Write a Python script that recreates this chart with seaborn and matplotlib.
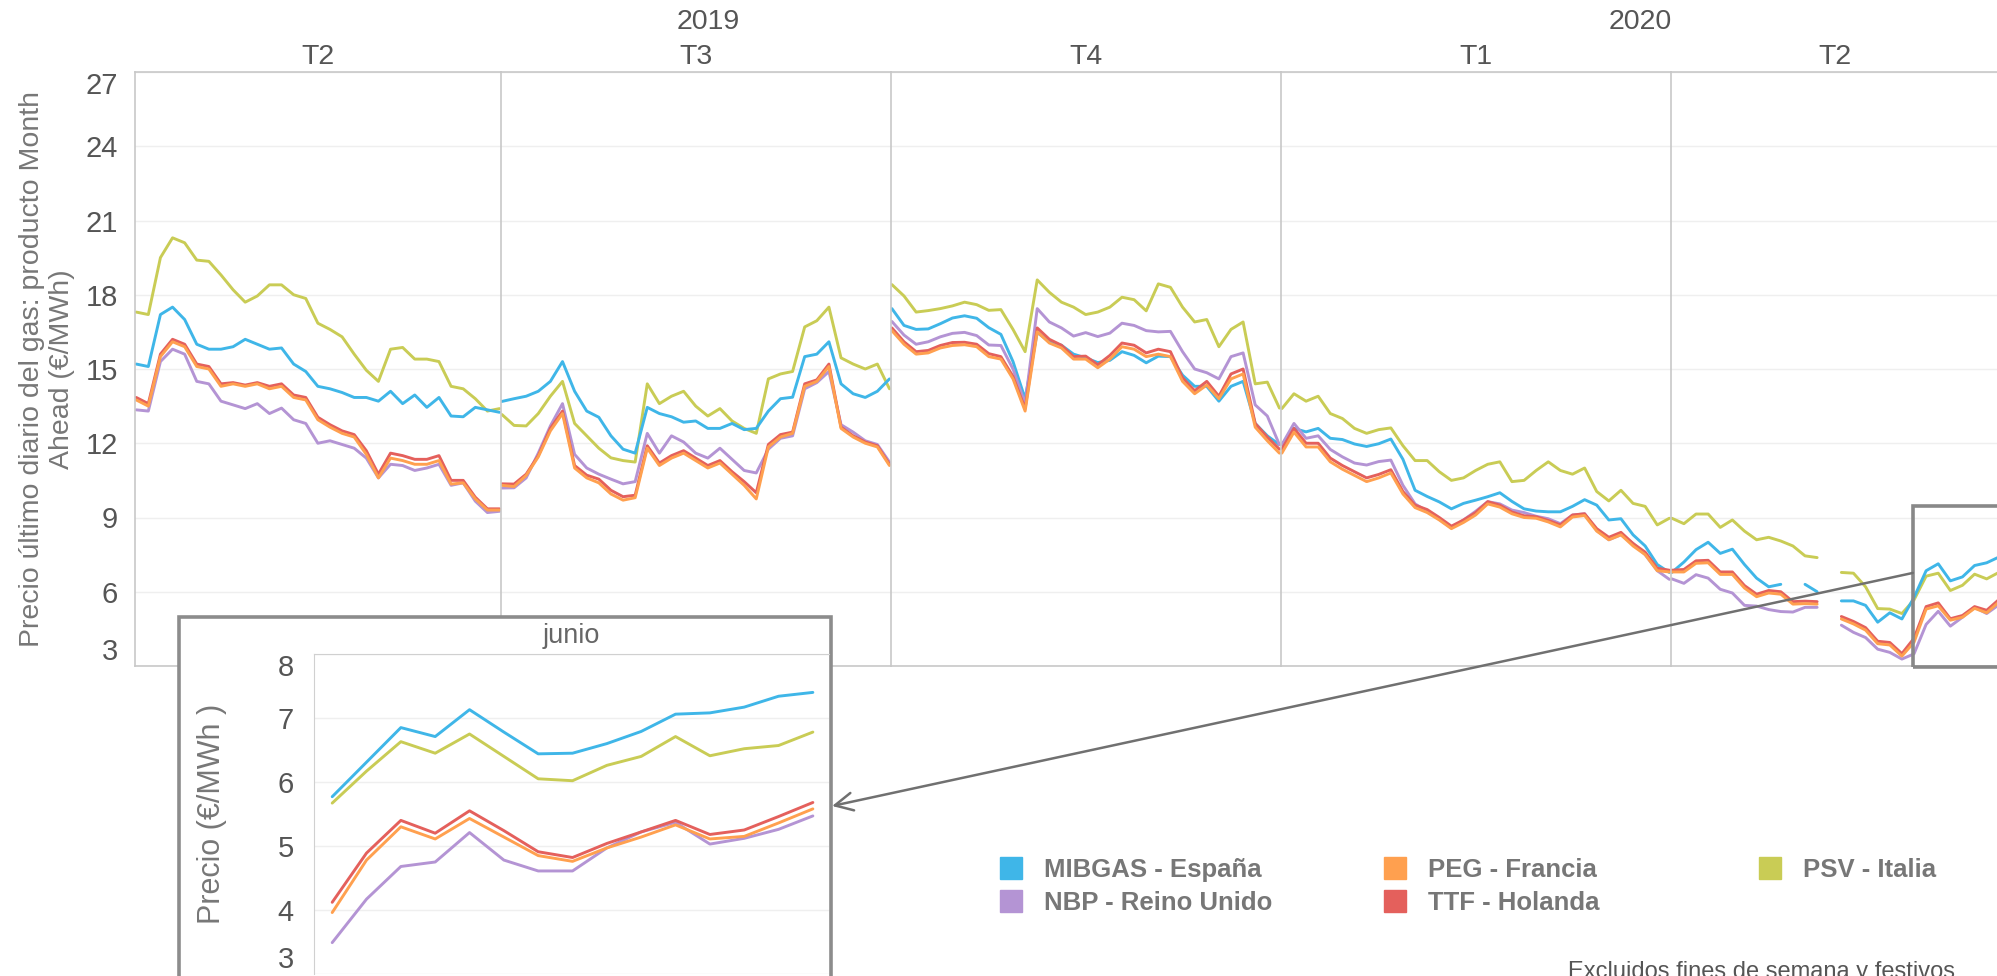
import numpy as np
import pandas as pd
import matplotlib.pyplot as plt
import seaborn as sns
from matplotlib.patches import Rectangle, ConnectionPatch
from matplotlib.lines import Line2D

# ---------------------------------------------------------------- datos
mercados = ['MIBGAS - España', 'NBP - Reino Unido', 'PEG - Francia', 'TTF - Holanda', 'PSV - Italia']
colores = ['#3fb6e8', '#b494d4', '#ffa04f', '#e4605c', '#c9cc55']
trimestres = ['T2', 'T3', 'T4', 'T1', 'T2']
anios = ['2019', '2019', '2019', '2020', '2020']
puntos_trimestre = [31, 33, 33, 33, 28]

nan = np.nan
# precio (€/MWh), un valor cada dos días hábiles aprox., trimestre a trimestre
mibgas = [15.2, 15.1, 17.2, 17.5, 17.0, 16.0, 15.8, 15.8, 15.9, 16.2, 16.0, 15.8, 15.85, 15.2, 14.9, 14.3,
          14.2, 14.05, 13.85, 13.85, 13.7, 14.1, 13.6, 13.95, 13.45, 13.85, 13.1, 13.07, 13.45, 13.35, 13.25,
          13.69, 13.8, 13.9, 14.1, 14.5, 15.3, 14.1, 13.3, 13.05, 12.3, 11.76, 11.6, 13.45, 13.2, 13.07, 12.85,
          12.9, 12.6, 12.6, 12.8, 12.55, 12.6, 13.3, 13.8, 13.86, 15.5, 15.6, 16.1, 14.4, 14.0, 13.85, 14.1, 14.6,
          17.44, 16.76, 16.6, 16.62, 16.83, 17.06, 17.15, 17.05, 16.67, 16.4, 15.3, 13.8, 16.48, 16.1, 15.96, 15.6,
          15.45, 15.26, 15.35, 15.7, 15.55, 15.25, 15.52, 15.5, 14.75, 14.3, 14.3, 13.7, 14.3, 14.5, 12.8, 12.3, 11.94,
          11.94, 12.6, 12.46, 12.6, 12.2, 12.15, 11.97, 11.87, 11.98, 12.17, 11.35, 10.1, 9.85, 9.63, 9.35, 9.57,
          9.7, 9.84, 10.0, 9.65, 9.35, 9.26, 9.23, 9.23, 9.45, 9.72, 9.5, 8.9, 8.95, 8.3, 7.85, 7.1, 6.78,
          6.78, 7.2, 7.7, 8.0, 7.55, 7.72, 7.1, 6.55, 6.2, 6.3, nan, 6.3, 6.0, nan, 5.63, 5.63, 5.45, 4.77,
          5.15, 4.9, 5.77, 6.85, 7.13, 6.44, 6.60, 7.06, 7.17, 7.40]
nbp = [13.35, 13.3, 15.3, 15.8, 15.6, 14.5, 14.4, 13.7, 13.55, 13.4, 13.6, 13.2, 13.42, 12.95, 12.8, 12.0,
       12.1, 11.95, 11.8, 11.4, 10.6, 11.15, 11.1, 10.9, 11.0, 11.15, 10.3, 10.4, 9.66, 9.2, 9.25,
       10.19, 10.2, 10.6, 11.6, 12.7, 13.6, 11.55, 11.0, 10.75, 10.55, 10.36, 10.45, 12.4, 11.6, 12.3, 12.05,
       11.6, 11.4, 11.8, 11.35, 10.9, 10.8, 11.76, 12.2, 12.3, 14.2, 14.45, 14.9, 12.75, 12.45, 12.1, 11.95, 11.24,
       16.92, 16.37, 16.0, 16.1, 16.3, 16.44, 16.48, 16.35, 15.97, 15.95, 15.0, 13.6, 17.44, 16.9, 16.66, 16.33,
       16.47, 16.31, 16.45, 16.85, 16.76, 16.55, 16.5, 16.52, 15.7, 15.0, 14.85, 14.6, 15.5, 15.65, 13.55, 13.1, 11.94,
       11.94, 12.8, 12.2, 12.3, 11.75, 11.45, 11.2, 11.12, 11.26, 11.32, 10.3, 9.55, 9.25, 8.93, 8.58, 8.9,
       9.25, 9.64, 9.55, 9.3, 9.2, 9.05, 8.95, 8.75, 9.1, 9.15, 8.48, 8.1, 8.3, 7.95, 7.5, 6.85, 6.5,
       6.52, 6.34, 6.69, 6.55, 6.1, 5.95, 5.45, 5.42, 5.28, 5.2, 5.18, 5.37, 5.37, nan, 4.65, 4.36, 4.15, 3.68,
       3.55, 3.28, 3.49, 4.68, 5.21, 4.61, 4.97, 5.37, 5.12, 5.47]
peg = [13.75, 13.5, 15.5, 16.1, 15.9, 15.1, 15.0, 14.3, 14.4, 14.3, 14.4, 14.2, 14.3, 13.85, 13.75, 12.95,
       12.65, 12.4, 12.25, 11.55, 10.6, 11.4, 11.3, 11.15, 11.15, 11.3, 10.35, 10.4, 9.75, 9.3, 9.3,
       10.3, 10.25, 10.7, 11.45, 12.5, 13.2, 11.0, 10.6, 10.4, 9.95, 9.7, 9.8, 11.8, 11.1, 11.4, 11.6,
       11.3, 11.0, 11.2, 10.75, 10.3, 9.75, 11.85, 12.25, 12.4, 14.3, 14.5, 15.1, 12.6, 12.25, 12.0, 11.85, 11.1,
       16.55, 16.0, 15.6, 15.65, 15.85, 15.95, 15.98, 15.9, 15.5, 15.4, 14.6, 13.3, 16.5, 16.05, 15.85, 15.4,
       15.4, 15.05, 15.4, 15.9, 15.8, 15.5, 15.6, 15.5, 14.5, 14.0, 14.35, 13.8, 14.6, 14.8, 12.65, 12.1, 11.6,
       11.6, 12.45, 11.85, 11.85, 11.25, 10.95, 10.7, 10.45, 10.6, 10.8, 9.95, 9.4, 9.2, 8.9, 8.55, 8.8,
       9.1, 9.55, 9.42, 9.15, 9.0, 8.97, 8.82, 8.62, 9.02, 9.08, 8.45, 8.1, 8.3, 7.85, 7.5, 6.85, 6.8,
       6.8, 6.8, 7.15, 7.17, 6.7, 6.7, 6.15, 5.8, 5.95, 5.9, 5.5, 5.52, 5.5, nan, 4.9, 4.7, 4.45, 3.9,
       3.85, 3.4, 3.96, 5.30, 5.43, 4.85, 4.97, 5.33, 5.15, 5.58]
ttf = [13.85, 13.6, 15.6, 16.2, 16.0, 15.2, 15.1, 14.4, 14.45, 14.35, 14.45, 14.3, 14.4, 13.95, 13.85, 13.05,
       12.75, 12.5, 12.35, 11.7, 10.75, 11.6, 11.5, 11.35, 11.35, 11.5, 10.5, 10.5, 9.82, 9.35, 9.35,
       10.36, 10.35, 10.75, 11.5, 12.6, 13.3, 11.1, 10.71, 10.55, 10.1, 9.84, 9.9, 11.9, 11.2, 11.5, 11.7,
       11.4, 11.1, 11.3, 10.85, 10.45, 10.0, 11.95, 12.35, 12.45, 14.4, 14.56, 15.2, 12.65, 12.3, 12.05, 11.9, 11.15,
       16.66, 16.1, 15.7, 15.75, 15.95, 16.07, 16.08, 16.0, 15.62, 15.5, 14.7, 13.4, 16.66, 16.2, 15.96, 15.5,
       15.52, 15.17, 15.55, 16.05, 15.96, 15.65, 15.8, 15.7, 14.65, 14.12, 14.5, 13.9, 14.8, 15.0, 12.8, 12.25, 11.76,
       11.76, 12.6, 12.0, 12.0, 11.4, 11.1, 10.85, 10.6, 10.74, 10.93, 10.05, 9.5, 9.32, 9.0, 8.65, 8.9,
       9.2, 9.64, 9.5, 9.22, 9.07, 9.03, 8.88, 8.7, 9.1, 9.15, 8.55, 8.2, 8.4, 7.95, 7.6, 6.95, 6.87,
       6.87, 6.9, 7.25, 7.27, 6.8, 6.8, 6.25, 5.9, 6.05, 6.0, 5.6, 5.62, 5.6, nan, 5.0, 4.8, 4.55, 4.0,
       3.95, 3.5, 4.12, 5.40, 5.55, 4.91, 5.04, 5.40, 5.25, 5.68]
psv = [17.3, 17.2, 19.5, 20.3, 20.1, 19.4, 19.35, 18.8, 18.2, 17.7, 17.95, 18.4, 18.4, 18.0, 17.85, 16.85,
       16.6, 16.3, 15.6, 14.95, 14.5, 15.8, 15.87, 15.4, 15.4, 15.3, 14.3, 14.2, 13.8, 13.3, 13.4,
       13.16, 12.72, 12.7, 13.2, 13.9, 14.5, 12.8, 12.3, 11.8, 11.41, 11.3, 11.24, 14.4, 13.6, 13.9, 14.1,
       13.5, 13.1, 13.4, 12.9, 12.6, 12.4, 14.6, 14.8, 14.9, 16.7, 16.95, 17.5, 15.45, 15.2, 15.0, 15.2, 14.2,
       18.41, 17.95, 17.3, 17.36, 17.44, 17.55, 17.7, 17.6, 17.37, 17.4, 16.6, 15.7, 18.6, 18.1, 17.7, 17.5,
       17.2, 17.3, 17.5, 17.9, 17.8, 17.35, 18.44, 18.3, 17.5, 16.9, 17.0, 15.9, 16.6, 16.9, 14.4, 14.47, 13.42,
       13.4, 14.0, 13.7, 13.9, 13.2, 13.0, 12.6, 12.4, 12.55, 12.62, 11.9, 11.3, 11.3, 10.85, 10.5, 10.6,
       10.9, 11.15, 11.25, 10.45, 10.5, 10.9, 11.25, 10.9, 10.75, 11.0, 10.05, 9.67, 10.1, 9.57, 9.45, 8.7, 8.97,
       8.97, 8.75, 9.14, 9.14, 8.6, 8.9, 8.45, 8.1, 8.2, 8.05, 7.85, 7.45, 7.38, nan, 6.78, 6.75, 6.2, 5.32,
       5.3, 5.12, 5.67, 6.63, 6.75, 6.05, 6.26, 6.71, 6.52, 6.78]

# detalle de junio 2020 (días hábiles 1..15)
junio_dia = list(range(1, 16))
junio_mibgas = [5.77, 6.31, 6.85, 6.71, 7.13, 6.78, 6.44, 6.45, 6.60, 6.79, 7.06, 7.08, 7.17, 7.34, 7.40]
junio_nbp = [3.49, 4.17, 4.68, 4.75, 5.21, 4.78, 4.61, 4.61, 4.97, 5.22, 5.37, 5.03, 5.12, 5.26, 5.47]
junio_peg = [3.96, 4.78, 5.30, 5.11, 5.43, 5.14, 4.85, 4.76, 4.97, 5.14, 5.33, 5.11, 5.15, 5.36, 5.58]
junio_ttf = [4.12, 4.89, 5.40, 5.20, 5.55, 5.24, 4.91, 4.82, 5.04, 5.22, 5.40, 5.18, 5.25, 5.46, 5.68]
junio_psv = [5.67, 6.17, 6.63, 6.45, 6.75, 6.40, 6.05, 6.02, 6.26, 6.40, 6.71, 6.41, 6.52, 6.57, 6.78]

# ---------------------------------------------------------------- tablas
valores = dict(zip(mercados, [mibgas, nbp, peg, ttf, psv]))
filas = []
inicio = 0
for t, n in enumerate(puntos_trimestre):
    for m in mercados:
        tramo = 0
        for i, v in enumerate(valores[m][inicio:inicio + n]):
            if np.isnan(v):
                tramo += 1  # corta la línea en los huecos
            filas.append((t, i, m, v, tramo))
    inicio += n
df = pd.DataFrame(filas, columns=['trimestre', 'dia', 'mercado', 'precio', 'tramo'])

junio = pd.DataFrame({'dia': junio_dia * 5,
                      'mercado': np.repeat(mercados, len(junio_dia)),
                      'precio': junio_mibgas + junio_nbp + junio_peg + junio_ttf + junio_psv})

# ---------------------------------------------------------------- estilo
sns.set_style('white')
plt.rcParams['font.family'] = ['Liberation Sans', 'DejaVu Sans']
narrow = ['Liberation Sans Narrow', 'Liberation Sans', 'DejaVu Sans']
gris_txt = '#555555'
gris_lin = '#c8c8c8'
paleta = dict(zip(mercados, colores))
orden = ['PSV - Italia', 'MIBGAS - España', 'NBP - Reino Unido', 'TTF - Holanda', 'PEG - Francia']

W, H = 1997, 976
fig = plt.figure(figsize=(W / 100, H / 100), dpi=100)
gs = fig.add_gridspec(1, 5, left=135 / W, right=2000 / W, top=1 - 72 / H, bottom=1 - 666 / H,
                      wspace=0, width_ratios=[n - 0.8 for n in puntos_trimestre])
axes = [fig.add_subplot(gs[0, k]) for k in range(5)]

for k, ax in enumerate(axes):
    sns.lineplot(data=df[df['trimestre'] == k], x='dia', y='precio', hue='mercado', hue_order=orden,
                 palette=paleta, units='tramo', estimator=None, legend=False, lw=2.1, ax=ax)
    n = puntos_trimestre[k]
    ax.set_xlim(-0.1, n - 0.9)
    ax.set_ylim(3, 27)
    ax.set_yticks(range(3, 28, 3))
    ax.set_xticks([])
    ax.set_xlabel('')
    ax.set_ylabel('')
    ax.grid(axis='y', color='#efefef', lw=1)
    for s in ['top', 'bottom', 'left']:
        ax.spines[s].set_color(gris_lin)
        ax.spines[s].set_linewidth(1.2)
    ax.spines['right'].set_visible(False)
    ax.tick_params(left=False, bottom=False, labelsize=21, labelcolor=gris_txt, pad=9)
    if k > 0:
        ax.tick_params(labelleft=False)
    ax.set_title(trimestres[k], fontsize=20.5, color=gris_txt, pad=6)

ticks = axes[0].yaxis.get_major_ticks()
ticks[0].label1.set_va('bottom')
ticks[-1].label1.set_va('top')

# cabecera de años
for anio in ['2019', '2020']:
    idx = [k for k, a in enumerate(anios) if a == anio]
    x0 = axes[idx[0]].get_position().x0
    x1 = axes[idx[-1]].get_position().x1
    fig.text((x0 + x1) / 2, 1 - 22 / H, anio, ha='center', va='center', fontsize=20.5, color=gris_txt)

fig.text(47 / W, 1 - 369 / H, 'Precio último diario del gas: producto Month\nAhead (€/MWh)',
         rotation=90, ha='center', va='center', multialignment='center', fontsize=20.5, color='#777777')

# recuadro del zoom sobre junio
ult = axes[-1]
ult.add_patch(Rectangle((19.9, 2.95), 12, 6.5, fill=False, edgecolor='#888888', lw=2.6,
                        clip_on=False, zorder=6))

# ---------------------------------------------------------------- detalle junio
fig.add_artist(Rectangle((179 / W, 1 - 1010 / H), (831 - 179) / W, (1010 - 617) / H,
                         transform=fig.transFigure, facecolor='white', edgecolor='#8c8c8c',
                         lw=2.6, zorder=1))
ins = fig.add_axes([314 / W, 1 - 974 / H, (829 - 314) / W, (974 - 654) / H])
ins.set_zorder(2)
sns.lineplot(data=junio, x='dia', y='precio', hue='mercado', hue_order=orden, palette=paleta,
             legend=False, lw=2.1, ax=ins)
ins.set_xlim(0.47, 15.47)
ins.set_ylim(3, 8)
ins.set_yticks(range(3, 9))
ins.set_xticks([])
ins.set_xlabel('')
ins.set_ylabel('')
ins.grid(axis='y', color='#efefef', lw=1)
for s in ['top', 'left']:
    ins.spines[s].set_color('#d0d0d0')
for s in ['bottom', 'right']:
    ins.spines[s].set_visible(False)
ins.tick_params(left=False, labelsize=21, labelcolor=gris_txt, pad=11)
iticks = ins.yaxis.get_major_ticks()
iticks[0].label1.set_va('bottom')
iticks[-1].label1.set_va('top')
ins.set_title('junio', fontsize=19.5, color='#666666', pad=8, family=narrow)
fig.text(212 / W, 1 - 814 / H, 'Precio (€/MWh )', rotation=90, ha='center', va='center',
         fontsize=22, color='#777777', zorder=3)

flecha = ConnectionPatch(xyA=(19.9, 6.76), coordsA=ult.transData, xyB=(1.006, 0.525),
                         coordsB=ins.transAxes, arrowstyle='->', mutation_scale=32,
                         color='#707070', lw=1.8, zorder=4)
fig.add_artist(flecha)

# ---------------------------------------------------------------- leyenda (3 columnas)
columnas = [(998, [0, 1]), (1382, [2, 3]), (1757, [4])]
for xcol, idx in columnas:
    handles = [Line2D([], [], ls='', marker='s', markersize=16, color=colores[i]) for i in idx]
    fig.legend(handles, [mercados[i] for i in idx], loc='upper left',
               bbox_to_anchor=(xcol / W, 1 - 858 / H), frameon=False, borderpad=0,
               borderaxespad=0, handlelength=1.0, handletextpad=0.8, labelspacing=0.36,
               prop={'family': narrow, 'weight': 'bold', 'size': 18.5}, labelcolor='#777777')

fig.text(1568 / W, 1 - 961 / H, 'Excluidos fines de semana y festivos', ha='left', va='top',
         fontsize=17, color=gris_txt)

fig.savefig('out.png', dpi=100)
